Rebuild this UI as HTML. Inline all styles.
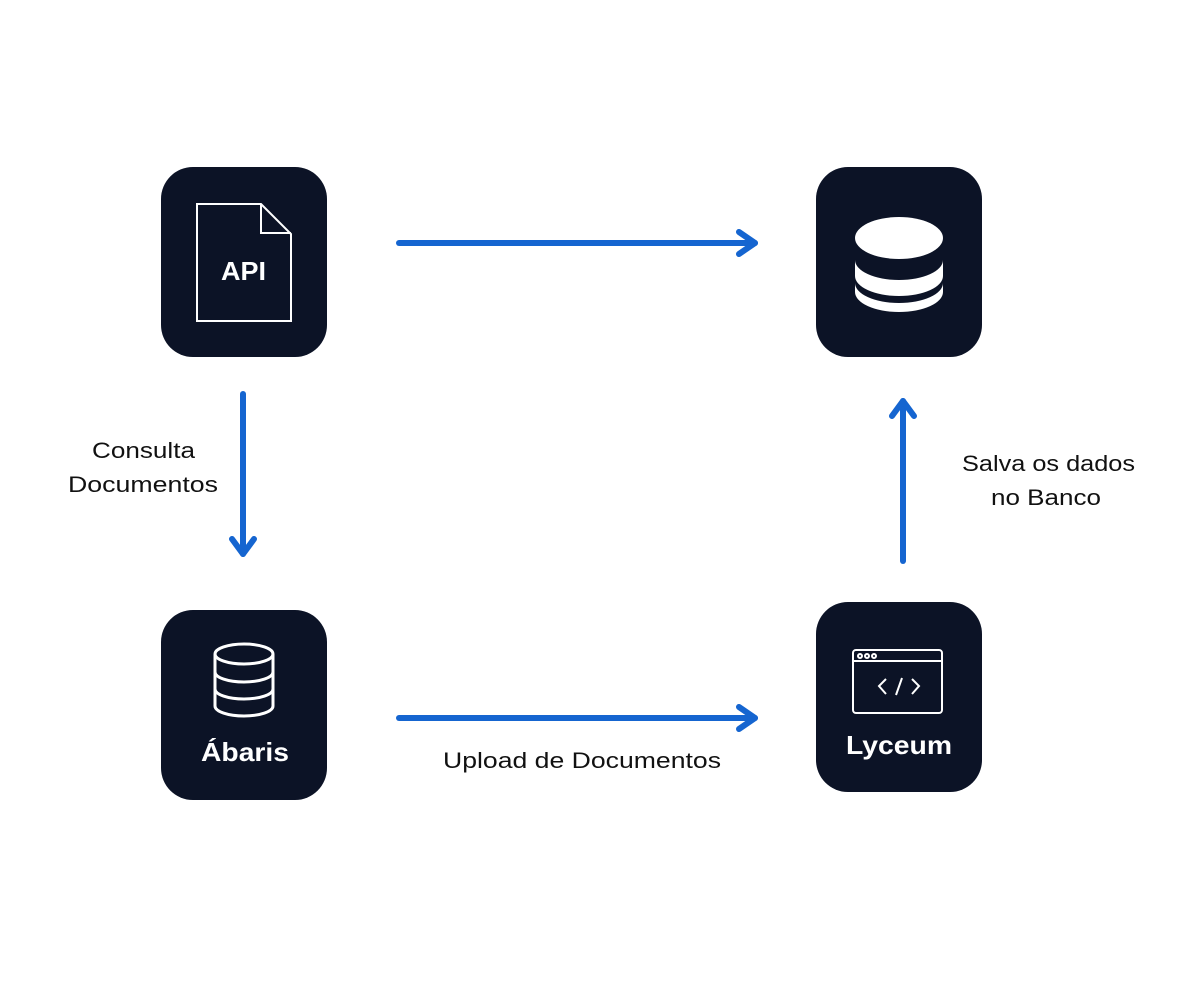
<!DOCTYPE html>
<html><head><meta charset="utf-8"><style>
html,body{margin:0;padding:0;background:#fff}
svg{display:block}
text{font-family:"Liberation Sans",sans-serif}
</style></head><body>
<svg width="1200" height="1000" viewBox="0 0 1200 1000" xmlns="http://www.w3.org/2000/svg">
<rect width="1200" height="1000" fill="#fff"/>
<g fill="#0c1326">
<rect x="161" y="167" width="166" height="190" rx="32"/>
<rect x="816" y="167" width="166" height="190" rx="32"/>
<rect x="161" y="610" width="166" height="190" rx="32"/>
<rect x="816" y="602" width="166" height="190" rx="32"/>
</g>
<!-- API icon -->
<path d="M197 204 H261 L291 234 V321 H197 Z M261 204 V233 H291" fill="none" stroke="#fff" stroke-width="2"/>
<text x="221" y="280" fill="#fff" font-size="26" font-weight="bold" textLength="45" lengthAdjust="spacingAndGlyphs">API</text>
<!-- DB solid icon -->
<g fill="#fff">
<path d="M855 260 V276 A44 20 0 0 0 943 276 V260 A44 20 0 0 1 855 260 Z"/>
<path d="M855 283 V292 A44 20 0 0 0 943 292 V283 A44 20 0 0 1 855 283 Z"/>
<ellipse cx="899" cy="238" rx="44" ry="21"/>
</g>
<!-- Abaris icon -->
<g fill="none" stroke="#fff" stroke-width="3">
<ellipse cx="244" cy="654" rx="29" ry="10"/>
<path d="M215 654 V706 A29 10 0 0 0 273 706 V654"/>
<path d="M215 672 A29 10 0 0 0 273 672"/>
<path d="M215 689 A29 10 0 0 0 273 689"/>
</g>
<text x="201" y="761" fill="#fff" font-size="26" font-weight="bold" textLength="88" lengthAdjust="spacingAndGlyphs">Ábaris</text>
<!-- Lyceum icon -->
<g fill="none" stroke="#fff" stroke-width="2">
<rect x="853" y="650" width="89" height="63" rx="3"/>
<line x1="853" y1="661" x2="942" y2="661"/>
<circle cx="860" cy="656" r="2"/><circle cx="867" cy="656" r="2"/><circle cx="874" cy="656" r="2"/>
<path d="M886 679 L879 686 L886 694 M912 679 L919 686 L912 694 M902 678 L896 695"/>
</g>
<text x="846" y="754" fill="#fff" font-size="26" font-weight="bold" textLength="106" lengthAdjust="spacingAndGlyphs">Lyceum</text>
<!-- arrows -->
<g stroke="#1565d0" stroke-width="6" fill="none" stroke-linecap="round" stroke-linejoin="round">
<line x1="399" y1="243" x2="755" y2="243"/><path d="M739 232 L755 243 L739 254"/>
<line x1="399" y1="718" x2="755" y2="718"/><path d="M739 707 L755 718 L739 729"/>
<line x1="243" y1="394" x2="243" y2="554"/><path d="M232 539 L243 554 L254 539"/>
<line x1="903" y1="561" x2="903" y2="401"/><path d="M892 416 L903 401 L914 416"/>
</g>
<g fill="#111" font-size="22" lengthAdjust="spacingAndGlyphs">
<text x="92" y="458" textLength="103" lengthAdjust="spacingAndGlyphs">Consulta</text>
<text x="68" y="492" textLength="150" lengthAdjust="spacingAndGlyphs">Documentos</text>
<text x="962" y="471" textLength="173" lengthAdjust="spacingAndGlyphs">Salva os dados</text>
<text x="991" y="505" textLength="110" lengthAdjust="spacingAndGlyphs">no Banco</text>
<text x="443" y="768" textLength="278" lengthAdjust="spacingAndGlyphs">Upload de Documentos</text>
</g>
</svg>
</body></html>
